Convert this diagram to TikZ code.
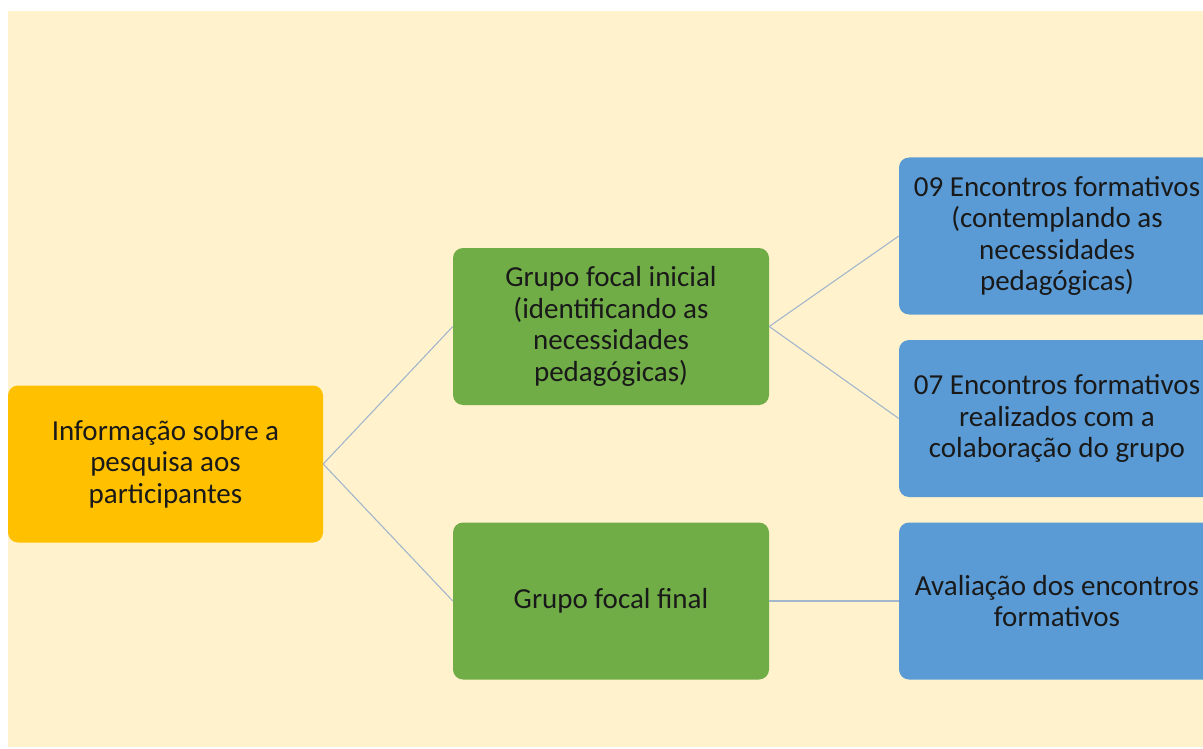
\documentclass[tikz,border=0pt]{standalone}
\usepackage{fontspec}
\setmainfont{Carlito}
\usepackage{tikz}
\usetikzlibrary{positioning,calc}

\definecolor{bgcream}{HTML}{FFF2CC}
\definecolor{boxyellow}{HTML}{FFC000}
\definecolor{boxgreen}{HTML}{70AD47}
\definecolor{boxblue}{HTML}{5B9BD5}
\definecolor{linkgray}{HTML}{A3B6CC}

\begin{document}
\begin{tikzpicture}[x=1pt,y=-1pt,
    box/.style={rounded corners=10pt,minimum width=316pt,minimum height=157pt,
        align=center,inner sep=0pt,font=\fontsize{29}{31.5}\selectfont,text=black!90},
    link/.style={draw=linkgray,line width=1.1pt}]
\useasboundingbox (0,0) rectangle (1203,749);
\fill[bgcream] (8,11) rectangle (1203,747);

% first level
\node[box,fill=boxyellow,minimum width=315pt] (info) at (165.5,464) {Informação sobre a\\pesquisa aos\\participantes};

% focal groups
\node[box,fill=boxgreen] (gfi) at (611,326.5) {Grupo focal inicial\\(identificando as\\necessidades\\pedagógicas)};
\node[box,fill=boxgreen] (gff) at (611,601) {Grupo focal final};

% meetings
\node[box,fill=boxblue] (enc9) at (1057,236) {09 Encontros formativos\\(contemplando as\\necessidades\\pedagógicas)};
\node[box,fill=boxblue] (enc7) at (1057,418.5) {07 Encontros formativos\\realizados com a\\colaboração do grupo};
\node[box,fill=boxblue] (aval) at (1057,601) {Avaliação dos encontros\\formativos};

% links
\draw[link] (info.east) -- (gfi.west);
\draw[link] (info.east) -- (gff.west);
\draw[link] (gfi.east) -- (enc9.west);
\draw[link] (gfi.east) -- (enc7.west);
\draw[link] (gff.east) -- (aval.west);
\end{tikzpicture}
\end{document}
